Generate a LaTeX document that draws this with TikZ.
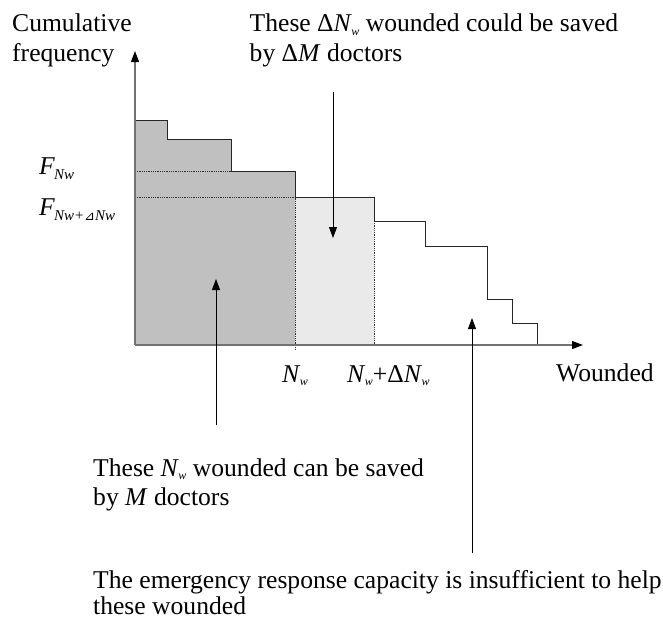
\documentclass[tikz,border=0pt]{standalone}
\usepackage{fontspec}
\setmainfont{Liberation Serif}
\newfontfamily\symfnt{DejaVu Sans}
\usetikzlibrary{arrows.meta}
\definecolor{darkfill}{RGB}{192,192,192}
\definecolor{lightfill}{RGB}{234,234,234}
\definecolor{axisgray}{RGB}{115,115,115}
\newcommand{\subw}{\raisebox{-0.3ex}{\fontsize{12}{12}\selectfont\itshape w}}
\newcommand{\myNw}{\textit{N}\kern-0.5pt\subw}
\newcommand{\Fsub}[1]{\textit{F}\kern-1pt\raisebox{-0.45ex}{\fontsize{15}{15}\selectfont\itshape #1}}
\begin{document}
\begin{tikzpicture}[x=1pt,y=-1pt,
  lbl/.style={anchor=base west,inner sep=0pt,font=\fontsize{25.6}{29}\selectfont},
  tip/.style={-{Triangle[length=11pt,width=8pt,color=black]}},
  arr/.style={line width=0.8pt,tip},
  stepline/.style={line width=1pt,black!85},
  dotline/.style={line width=0.8pt,densely dotted,black!80},
  axisline/.style={line width=1.2pt,axisgray,tip}]
\useasboundingbox (0,0) rectangle (663,619);
% fills
\fill[darkfill] (135,345) -- (135,120.5) -- (167,120.5) -- (167,139.5) -- (231,139.5) -- (231,171) -- (295,171) -- (295,345) -- cycle;
\fill[lightfill] (295,197.5) rectangle (374,345);
% dotted lines
\draw[dotline] (135,171) -- (231,171);
\draw[dotline] (135,197.5) -- (295,197.5);
\draw[dotline] (295,197.5) -- (295,349);
\draw[dotline] (374,221) -- (374,345);
% step outline
\draw[stepline] (135,120.5) -- (167,120.5) -- (167,139.5) -- (231,139.5) -- (231,171) -- (295,171) -- (295,197.5) -- (374,197.5) -- (374,221) -- (425,221) -- (425,246) -- (487.5,246) -- (487.5,299.5) -- (512.5,299.5) -- (512.5,323) -- (537,323) -- (537,345);
% axes
\coordinate (O) at (135,345);
\coordinate (ytop) at (135,51);
\coordinate (xend) at (583,345);
\draw[axisline] (O) -- (ytop);
\draw[axisline] (O) -- (xend);
% labels
\node[lbl] (cum1) at (12,31.5) {Cumulative};
\node[lbl] (cum2) at (12,61) {frequency};
\node[lbl] (top1) at (249.5,31.5) {These Δ\myNw{} wounded could be saved};
\node[lbl] (top2) at (249.5,61) {by Δ\textit{M} doctors};
\node[lbl] (fnw) at (39,174) {\Fsub{Nw}};
\node[lbl] (fnw2) at (39,215) {\Fsub{Nw+{\upshape\symfnt\fontsize{13}{13}\selectfont ⊿}Nw}};
\node[lbl] (nw) at (282,382) {\myNw};
\node[lbl] (nwd) at (347,382) {\myNw+Δ\myNw};
\node[lbl] (wnd) at (556,381) {Wounded};
\node[lbl] (bl1) at (93,476) {These \myNw{} wounded can be saved};
\node[lbl] (bl2) at (93,505) {by \textit{M} doctors};
\node[lbl] (bb1) at (93,588) {The emergency response capacity is insufficient to help};
\node[lbl] (bb2) at (93,614) {these wounded};
% pointer arrows
\coordinate (a1s) at (333,92);
\coordinate (a1e) at (333,238);
\coordinate (a2s) at (216,425);
\coordinate (a2e) at (216,279);
\coordinate (a3s) at (472,553);
\coordinate (a3e) at (472,318);
\draw[arr] (a1s) -- (a1e);
\draw[arr] (a2s) -- (a2e);
\draw[arr] (a3s) -- (a3e);
\end{tikzpicture}
\end{document}
